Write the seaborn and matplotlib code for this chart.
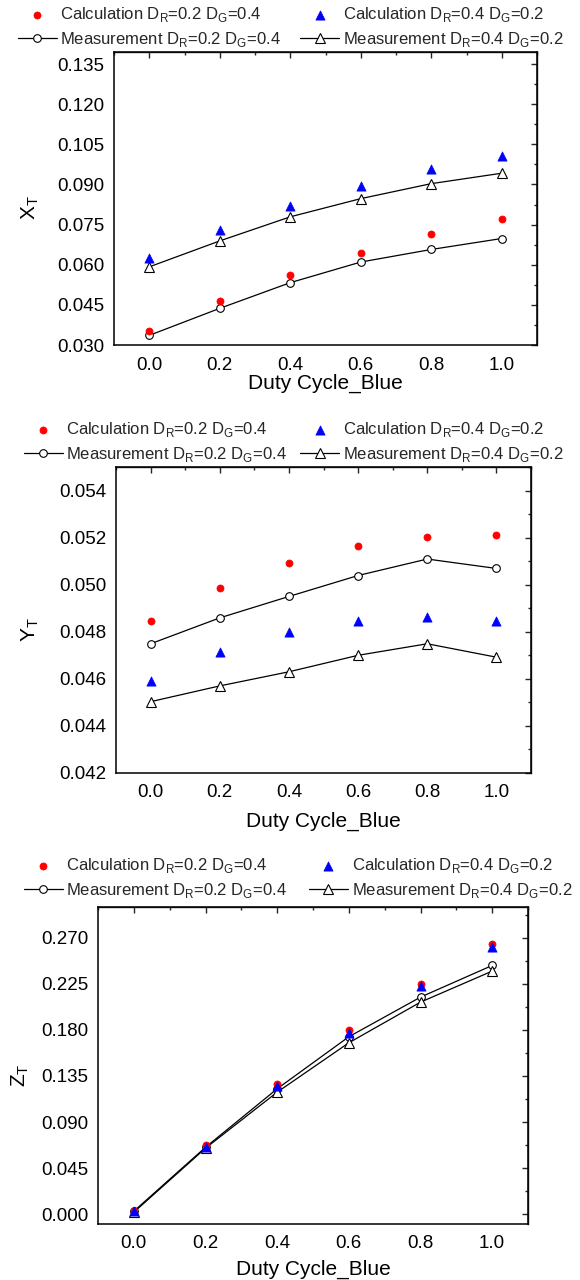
import matplotlib
matplotlib.use("Agg")
import matplotlib.pyplot as plt
from matplotlib.ticker import MultipleLocator, FormatStrFormatter
import seaborn as sns

duty = [0.0, 0.2, 0.4, 0.6, 0.8, 1.0]

x_calc_a = [0.0351, 0.0464, 0.0560, 0.0644, 0.0714, 0.0770]
x_meas_a = [0.0336, 0.0437, 0.0533, 0.0610, 0.0657, 0.0698]
x_calc_b = [0.0625, 0.0729, 0.0821, 0.0896, 0.0957, 0.1006]
x_meas_b = [0.0592, 0.0689, 0.0779, 0.0847, 0.0903, 0.0942]

y_calc_a = [0.04844, 0.04986, 0.05092, 0.05166, 0.05204, 0.05210]
y_meas_a = [0.04749, 0.04859, 0.04950, 0.05039, 0.05109, 0.05069]
y_calc_b = [0.04590, 0.04714, 0.04798, 0.04847, 0.04864, 0.04844]
y_meas_b = [0.04503, 0.04570, 0.04630, 0.04700, 0.04749, 0.04692]

z_calc_a = [0.003, 0.0678, 0.1274, 0.1801, 0.2251, 0.2641]
z_meas_a = [0.003, 0.0654, 0.1225, 0.1733, 0.2120, 0.2429]
z_calc_b = [0.003, 0.0660, 0.1250, 0.1772, 0.2224, 0.2608]
z_meas_b = [0.002, 0.0645, 0.1192, 0.1674, 0.2071, 0.2374]

lab_calc_a = "Calculation D$_\\mathregular{R}$=0.2 D$_\\mathregular{G}$=0.4"
lab_calc_b = "Calculation D$_\\mathregular{R}$=0.4 D$_\\mathregular{G}$=0.2"
lab_meas_a = "Measurement D$_\\mathregular{R}$=0.2 D$_\\mathregular{G}$=0.4"
lab_meas_b = "Measurement D$_\\mathregular{R}$=0.4 D$_\\mathregular{G}$=0.2"

sns.set_theme(style="white")
plt.rcParams["font.family"] = ["Liberation Sans", "DejaVu Sans"]
plt.rcParams["axes.linewidth"] = 1.0

W, H = 580, 1280
fig = plt.figure(figsize=(W / 100, H / 100), dpi=100)

def px_rect(l, t, r, b):
    return [l / W, 1 - b / H, (r - l) / W, (b - t) / H]

panels = [
    dict(rect=px_rect(114, 52, 537, 345), ylim=(0.030, 0.1395), major=0.015, minor=0.0075,
         ylabel="X$_\\mathregular{T}$", data=(x_calc_a, x_calc_b, x_meas_a, x_meas_b),
         ylab_x=-0.199, xlab_y=-0.13, leg=(18, 5), colsp=1.14, pad=4),
    dict(rect=px_rect(116, 467, 531, 773), ylim=(0.042, 0.055), major=0.002, minor=0.001,
         ylabel="Y$_\\mathregular{T}$", data=(y_calc_a, y_calc_b, y_meas_a, y_meas_b),
         ylab_x=-0.207, xlab_y=-0.157, leg=(24, 420), colsp=0.78, pad=3),
    dict(rect=px_rect(98, 907, 528, 1224), ylim=(-0.0095, 0.300), major=0.045, minor=0.0225,
         ylabel="Z$_\\mathregular{T}$", data=(z_calc_a, z_calc_b, z_meas_a, z_meas_b),
         ylab_x=-0.181, xlab_y=-0.142, leg=(24, 856), colsp=1.3, pad=3),
]

for p in panels:
    ax = fig.add_axes(p["rect"])
    ca, cb, ma, mb = p["data"]
    sns.lineplot(x=duty, y=ma, ax=ax, color="black", linewidth=0.9, marker="o",
                 markersize=5.5, markerfacecolor="white", markeredgecolor="black",
                 markeredgewidth=0.8, label=lab_meas_a)
    sns.lineplot(x=duty, y=mb, ax=ax, color="black", linewidth=0.9, marker="^",
                 markersize=7.0, markerfacecolor="white", markeredgecolor="black",
                 markeredgewidth=0.8, label=lab_meas_b)
    sns.scatterplot(x=duty, y=ca, ax=ax, color="#ff0000", marker="o", s=26,
                    edgecolor="#ff0000", linewidth=0.5, label=lab_calc_a, zorder=3)
    sns.scatterplot(x=duty, y=cb, ax=ax, color="#0000ff", marker="^", s=44,
                    edgecolor="#0000ff", linewidth=0.5, label=lab_calc_b, zorder=3)
    ax.set_xlim(-0.1, 1.1)
    ax.set_ylim(*p["ylim"])
    ax.xaxis.set_major_locator(MultipleLocator(0.2))
    ax.xaxis.set_minor_locator(MultipleLocator(0.1))
    ax.yaxis.set_major_locator(MultipleLocator(p["major"]))
    ax.yaxis.set_minor_locator(MultipleLocator(p["minor"]))
    ax.xaxis.set_major_formatter(FormatStrFormatter("%.1f"))
    ax.yaxis.set_major_formatter(FormatStrFormatter("%.3f"))
    ax.tick_params(which="major", direction="out", length=5, width=1.0,
                   labelsize=13.5, colors="black", pad=2)
    ax.tick_params(axis="x", which="major", pad=p["pad"])
    ax.tick_params(which="minor", direction="out", length=2.5, width=1.0)
    for s in ax.spines.values():
        s.set_color("black")
        s.set_linewidth(1.1)
    top = ax.secondary_xaxis("top")
    top.xaxis.set_major_locator(MultipleLocator(0.2))
    top.xaxis.set_minor_locator(MultipleLocator(0.1))
    top.tick_params(which="major", direction="in", length=4, width=1.0, labeltop=False)
    top.tick_params(which="minor", direction="in", length=2.5, width=1.0)
    right = ax.secondary_yaxis("right")
    right.yaxis.set_major_locator(MultipleLocator(p["major"]))
    right.yaxis.set_minor_locator(MultipleLocator(p["minor"]))
    right.tick_params(which="major", direction="in", length=4, width=1.0, labelright=False)
    right.tick_params(which="minor", direction="in", length=2.5, width=1.0)

    ax.set_xlabel("Duty Cycle_Blue", fontsize=15, color="black")
    ax.set_ylabel(p["ylabel"], fontsize=15, color="black")
    ax.xaxis.set_label_coords(0.5, p["xlab_y"])
    ax.xaxis.label.set_va("center")
    ax.yaxis.set_label_coords(p["ylab_x"], 0.47)
    ax.yaxis.label.set_va("center")

    handles, labels = ax.get_legend_handles_labels()
    order = [labels.index(l) for l in (lab_calc_a, lab_meas_a, lab_calc_b, lab_meas_b)]
    lx, ly = p["leg"]
    ax.legend([handles[i] for i in order], [labels[i] for i in order], ncol=2,
              loc="upper left", bbox_to_anchor=(lx / W, 1 - ly / H),
              bbox_transform=fig.transFigure, frameon=False, fontsize=12,
              borderpad=0, borderaxespad=0, handlelength=2.33, handletextpad=0.22,
              columnspacing=p["colsp"], labelspacing=0.36)

fig.savefig("out.png", dpi=100)
